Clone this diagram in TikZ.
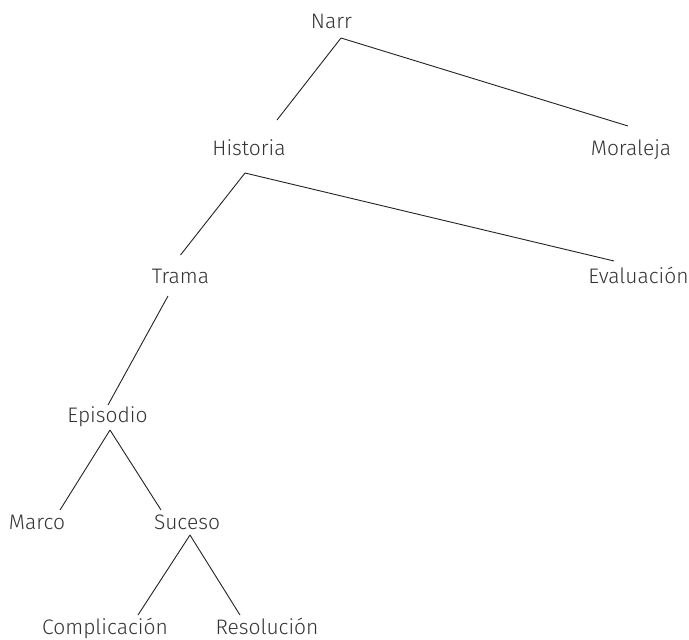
\documentclass[tikz,border=0pt]{standalone}
\usepackage{fontspec}
\setmainfont{Fira Sans}[UprightFont=* Light]
\usepackage{xcolor}
\usepackage{tikz}
\usetikzlibrary{calc}

\definecolor{txtgray}{HTML}{333333}
\definecolor{linegray}{HTML}{222222}

\tikzset{
  lbl/.style={anchor=base, inner sep=0pt, text=txtgray, font=\fontsize{21}{25}\selectfont},
  edge/.style={draw=linegray, line width=0.9pt}
}

\begin{document}
\begin{tikzpicture}[x=1pt, y=-1pt]
\useasboundingbox (0,0) rectangle (689,640);

% Labels
\node[lbl] (narr) at (331.5, 28) {Narr};
\node[lbl] (historia) at (249, 155) {Historia};
\node[lbl] (moraleja) at (631, 155) {Moraleja};
\node[lbl] (trama) at (180.5, 283) {Trama};
\node[lbl] (evaluacion) at (638.5, 283) {Evaluación};
\node[lbl] (episodio) at (107.5, 422) {Episodio};
\node[lbl] (marco) at (37, 529) {Marco};
\node[lbl] (suceso) at (187, 529) {Suceso};
\node[lbl] (complicacion) at (105, 634) {Complicación};
\node[lbl] (resolucion) at (267, 634) {Resolución};

% Branches
\draw[edge] ($(narr.base)+(9.5,10)$) -- ($(historia.base)+(28,-35)$);
\draw[edge] ($(narr.base)+(9.5,10)$) -- ($(moraleja.base)+(-3,-29)$);
\draw[edge] ($(historia.base)+(-4,18)$) -- ($(trama.base)+(0,-28)$);
\draw[edge] ($(historia.base)+(-4,18)$) -- ($(evaluacion.base)+(-24.5,-22)$);
\draw[edge] ($(trama.base)+(-12.5,13)$) -- ($(episodio.base)+(0.5,-17)$);
\draw[edge] ($(episodio.base)+(2.5,8)$) -- ($(marco.base)+(23,-19)$);
\draw[edge] ($(episodio.base)+(2.5,8)$) -- ($(suceso.base)+(-26,-19)$);
\draw[edge] ($(suceso.base)+(3,6)$) -- ($(complicacion.base)+(33,-19)$);
\draw[edge] ($(suceso.base)+(3,6)$) -- ($(resolucion.base)+(-27,-19)$);

\end{tikzpicture}
\end{document}
